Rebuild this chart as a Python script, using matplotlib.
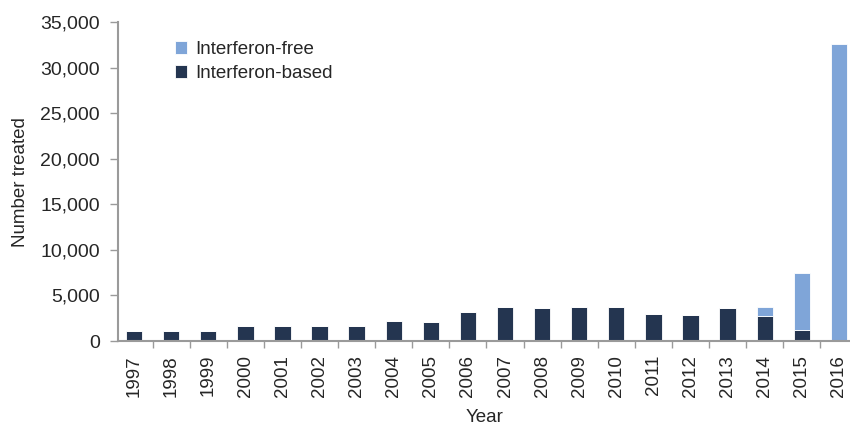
import numpy as np
import matplotlib.pyplot as plt
from matplotlib.ticker import FuncFormatter

plt.rcParams['font.family'] = ['Liberation Sans', 'DejaVu Sans']

years = [str(y) for y in range(1997, 2017)]
interferon_based = [1100, 1100, 1100, 1650, 1650, 1650, 1650, 2230, 2050, 3180,
                    3770, 3590, 3770, 3770, 3000, 2820, 3590, 2780, 1240, 0]
interferon_free = [0, 0, 0, 0, 0, 0, 0, 0, 0, 0,
                   0, 0, 0, 0, 0, 0, 0, 990, 6190, 32600]

dark = '#243550'
light = '#7fa5d8'
axis_grey = '#9a9a9a'
text_col = '#262626'

x = np.arange(len(years))

fig = plt.figure(figsize=(8.5, 4.26), dpi=100)
ax = fig.add_axes([0.139, 0.1995, 0.861, 0.7485])

ax.bar(x, interferon_based, width=0.44, color=dark, edgecolor='white', linewidth=0.6,
       label='Interferon-based')
ax.bar(x, interferon_free, width=0.44, bottom=interferon_based, color=light,
       edgecolor='white', linewidth=0.6, label='Interferon-free')

ax.set_xlim(-0.43, 19.3)
ax.set_ylim(0, 35000)
ax.set_yticks(np.arange(0, 35001, 5000))
ax.yaxis.set_major_formatter(FuncFormatter(lambda v, p: f'{int(v):,}'))

ax.set_xticks(x)
ax.set_xticklabels(years, rotation=90)
ax.set_xticks(x[:-1] + 0.5, minor=True)
ax.tick_params(axis='x', which='major', length=0, pad=10, labelsize=13.5, labelcolor=text_col)
ax.tick_params(axis='x', which='minor', length=5, width=1, color=axis_grey, direction='out')
ax.tick_params(axis='y', length=6, width=1, color=axis_grey, labelsize=14,
               labelcolor=text_col, pad=7)

for side in ['top', 'right']:
    ax.spines[side].set_visible(False)
for side in ['left', 'bottom']:
    ax.spines[side].set_color(axis_grey)
    ax.spines[side].set_linewidth(1.5)

ax.set_xlabel('Year', fontsize=13.5, color=text_col, labelpad=9)
ax.set_ylabel('Number treated', fontsize=13.5, color=text_col, labelpad=8)

handles, labels = ax.get_legend_handles_labels()
ax.legend(handles[::-1], labels[::-1], loc='upper left', bbox_to_anchor=(0.055, 0.995),
          frameon=False, fontsize=13.5, handlelength=0.65, handleheight=0.7,
          handletextpad=0.4, labelspacing=0.4, labelcolor=text_col)

fig.savefig('out.png', dpi=100)
